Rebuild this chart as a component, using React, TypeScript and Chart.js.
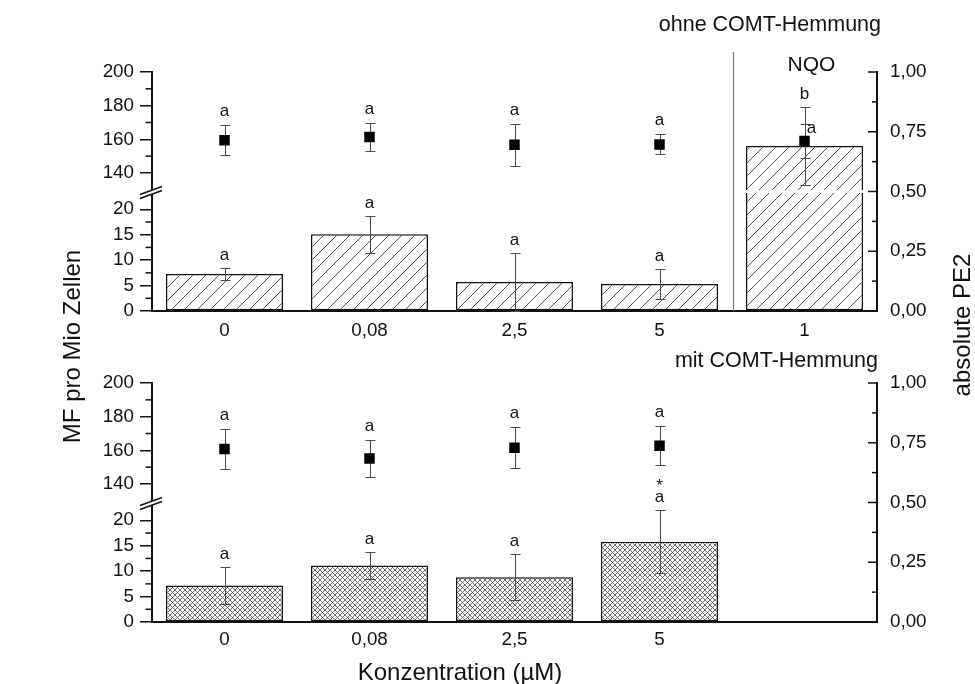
import React, { useEffect, useRef } from 'react';
import { Chart, registerables } from 'chart.js';

Chart.register(...registerables);

const FONT = '"Liberation Sans", Arial, Helvetica, sans-serif';
const INK = '#111111';

// ---------- data ----------
// concentration categories (µM); the last slot of the upper panel is the NQO control
const concOhne = ['0', '0,08', '2,5', '5', '1'];
const concMit = ['0', '0,08', '2,5', '5', ''];

// MF pro Mio Zellen (bars): mean and SD
const mfOhne = [7.3, 15.1, 5.7, 5.3, 156];
const mfOhneSd = [1.2, 3.6, 5.7, 3.0, 23];
const mfMit = [7.2, 11.1, 8.8, 15.8, null];
const mfMitSd = [3.6, 2.6, 4.5, 6.2, null];

// absolute PE2 (squares): mean and SD
const pe2Ohne = [0.714, 0.728, 0.696, 0.697, 0.711];
const pe2OhneSd = [0.063, 0.058, 0.088, 0.042, 0.07];
const pe2Mit = [0.724, 0.684, 0.729, 0.737, null];
const pe2MitSd = [0.084, 0.078, 0.085, 0.081, null];

// significance marks (lines separated by \n, top line first)
const mfOhneMarks = ['a', 'a', 'a', 'a', 'b'];
const pe2OhneMarks = ['a', 'a', 'a', 'a', 'a'];
const mfMitMarks = ['a', 'a', 'a', '*\na', ''];
const pe2MitMarks = ['a', 'a', 'a', 'a', ''];

// broken MF axis: lower and upper segment
const mfLowRange = [0, 23.5];
const mfHighRange = [129, 200];
const mfLowTicks = [0, 5, 10, 15, 20];
const mfHighTicks = [140, 160, 180, 200];
const pe2Range = [0, 1];
const pe2Ticks = [0, 0.25, 0.5, 0.75, 1];

type Panel = {
  labels: string[];
  mf: (number | null)[];
  mfSd: (number | null)[];
  pe2: (number | null)[];
  pe2Sd: (number | null)[];
  mfMarks: string[];
  pe2Marks: string[];
  hatch: 'diag' | 'cross';
  title: string;
  control?: string;
  areaTop: number;
  areaBottom: number;
  titleDy: number;
  titleDx: number;
  labelPad: number;
};

const PAGE_W = 975;
const PAGE_H = 684;

const ohnePanel: Panel = {
  labels: concOhne, mf: mfOhne, mfSd: mfOhneSd, pe2: pe2Ohne, pe2Sd: pe2OhneSd,
  mfMarks: mfOhneMarks, pe2Marks: pe2OhneMarks, hatch: 'diag',
  title: 'ohne COMT-Hemmung', control: 'NQO',
  areaTop: 72, areaBottom: 311, titleDy: -41, titleDx: 4, labelPad: 9,
};

const mitPanel: Panel = {
  labels: concMit, mf: mfMit, mfSd: mfMitSd, pe2: pe2Mit, pe2Sd: pe2MitSd,
  mfMarks: mfMitMarks, pe2Marks: pe2MitMarks, hatch: 'cross',
  title: 'mit COMT-Hemmung',
  areaTop: 383, areaBottom: 622, titleDy: -16.5, titleDx: 1, labelPad: 7,
};

function makeHatch(kind: 'diag' | 'cross'): CanvasPattern {
  const size = kind === 'diag' ? 13 : 5;
  const c = document.createElement('canvas');
  c.width = size;
  c.height = size;
  const g = c.getContext('2d')!;
  g.fillStyle = '#ffffff';
  g.fillRect(0, 0, size, size);
  g.strokeStyle = kind === 'diag' ? '#3c3c3c' : '#4a4a4a';
  g.lineWidth = kind === 'diag' ? 0.9 : 0.8;
  g.beginPath();
  g.moveTo(-1, size + 1); g.lineTo(size + 1, -1);
  g.moveTo(-1, 1); g.lineTo(1, -1);
  g.moveTo(size - 1, size + 1); g.lineTo(size + 1, size - 1);
  if (kind === 'cross') {
    g.moveTo(-1, -1); g.lineTo(size + 1, size + 1);
    g.moveTo(size - 1, -1); g.lineTo(size + 1, 1);
    g.moveTo(-1, size - 1); g.lineTo(1, size + 1);
  }
  g.stroke();
  return g.createPattern(c, 'repeat')!;
}

function errorBar(ctx: CanvasRenderingContext2D, x: number, yTop: number, yBot: number) {
  const cx = Math.round(x) + 0.5;
  const cap = 5;
  const t = Math.round(yTop) + 0.5;
  const b = Math.round(yBot) + 0.5;
  ctx.beginPath();
  ctx.moveTo(cx, t); ctx.lineTo(cx, b);
  ctx.moveTo(cx - cap, t); ctx.lineTo(cx + cap, t);
  ctx.moveTo(cx - cap, b); ctx.lineTo(cx + cap, b);
  ctx.stroke();
}

function drawMarks(ctx: CanvasRenderingContext2D, s: string, x: number, baseY: number) {
  if (!s) return;
  const lines = s.split('\n').reverse();
  lines.forEach((ln, k) => ctx.fillText(ln, x, baseY - k * 11.5));
}

function drawText(
  ctx: CanvasRenderingContext2D, s: string, x: number, y: number, size: number,
  align: CanvasTextAlign, rot = 0,
) {
  ctx.save();
  ctx.translate(x, y);
  if (rot) ctx.rotate(rot);
  ctx.font = `${size}px ${FONT}`;
  ctx.fillStyle = INK;
  ctx.textAlign = align;
  ctx.textBaseline = 'alphabetic';
  ctx.fillText(s, 0, 0);
  ctx.restore();
}

function decorPlugin(p: Panel, shared: boolean) {
  const lowMax = mfLowRange[1];
  return {
    id: 'panelDecor',
    beforeDatasetDraw(chart: any, args: any) {
      // whiskers go under the squares but over the bars
      if (args.index !== 0) return;
      const { ctx } = chart;
      const { x, yLow, yHigh, yR } = chart.scales;
      ctx.save();
      ctx.strokeStyle = '#4a4a4a';
      ctx.lineWidth = 1;
      p.mf.forEach((v, i) => {
        if (v == null) return;
        const sd = p.mfSd[i] ?? 0;
        const sc = v > lowMax ? yHigh : yLow;
        errorBar(ctx, x.getPixelForValue(i), sc.getPixelForValue(v + sd), sc.getPixelForValue(Math.max(v - sd, sc.min)));
      });
      p.pe2.forEach((v, i) => {
        if (v == null) return;
        const sd = p.pe2Sd[i] ?? 0;
        errorBar(ctx, x.getPixelForValue(i), yR.getPixelForValue(v + sd), yR.getPixelForValue(v - sd));
      });
      ctx.restore();
    },
    afterDatasetsDraw(chart: any) {
      const { ctx } = chart;
      const { x, yLow, yHigh, yR } = chart.scales;
      const brk = yLow.top;
      // white gap where a bar crosses the axis break
      const meta = chart.getDatasetMeta(1);
      p.mf.forEach((v, i) => {
        if (v == null || v <= lowMax) return;
        const el = meta.data[i];
        ctx.save();
        ctx.fillStyle = '#ffffff';
        ctx.fillRect(el.x - el.width / 2 - 2, brk - 1.5, el.width + 4, 3);
        ctx.restore();
      });
      // significance letters
      ctx.save();
      ctx.font = `17px ${FONT}`;
      ctx.fillStyle = INK;
      ctx.textAlign = 'center';
      ctx.textBaseline = 'alphabetic';
      p.mf.forEach((v, i) => {
        if (v == null) return;
        const sd = p.mfSd[i] ?? 0;
        const sc = v > lowMax ? yHigh : yLow;
        drawMarks(ctx, p.mfMarks[i], x.getPixelForValue(i), sc.getPixelForValue(v + sd) - 8);
      });
      p.pe2.forEach((v, i) => {
        if (v == null) return;
        const sd = p.pe2Sd[i] ?? 0;
        const top = yR.getPixelForValue(v + sd);
        let px = x.getPixelForValue(i);
        let base = top - 9;
        const mv = p.mf[i];
        if (mv != null) {
          const msd = p.mfSd[i] ?? 0;
          const sc = mv > lowMax ? yHigh : yLow;
          const wTop = sc.getPixelForValue(mv + msd);
          const wBot = sc.getPixelForValue(Math.max(mv - msd, sc.min));
          if (base - 4 > wTop && base - 4 < wBot) {
            // letter would sit on the bar whisker: move it beside the cap
            px += 7;
            base = top + 9;
          }
        }
        drawMarks(ctx, p.pe2Marks[i], px, base);
      });
      ctx.restore();
    },
    afterDraw(chart: any) {
      const { ctx, chartArea } = chart;
      const { x, yLow, yHigh, yR } = chart.scales;
      const left = chartArea.left;
      const right = chartArea.right;
      ctx.save();
      ctx.strokeStyle = INK;
      ctx.lineWidth = 1.5;
      // minor ticks on the MF axis (outward) halfway between major ticks
      for (const sc of [yLow, yHigh]) {
        const t = sc.ticks.map((tk: any) => tk.value);
        for (let k = 0; k < t.length - 1; k++) {
          const y = sc.getPixelForValue((t[k] + t[k + 1]) / 2);
          ctx.beginPath(); ctx.moveTo(left - 6.5, y); ctx.lineTo(left, y); ctx.stroke();
        }
      }
      // PE2 axis: major and minor ticks pointing inward
      const rt = yR.ticks.map((tk: any) => tk.value);
      rt.forEach((v: number, k: number) => {
        const y = yR.getPixelForValue(v);
        ctx.beginPath(); ctx.moveTo(right - 9, y); ctx.lineTo(right, y); ctx.stroke();
        if (k < rt.length - 1) {
          const ym = yR.getPixelForValue((v + rt[k + 1]) / 2);
          ctx.beginPath(); ctx.moveTo(right - 5, ym); ctx.lineTo(right, ym); ctx.stroke();
        }
      });
      // axis break marks
      const by = yLow.top;
      ctx.fillStyle = '#ffffff';
      ctx.beginPath();
      ctx.moveTo(left - 12, by + 3); ctx.lineTo(left + 10, by - 5);
      ctx.lineTo(left + 10, by - 1); ctx.lineTo(left - 12, by + 7);
      ctx.closePath(); ctx.fill();
      ctx.lineWidth = 1.4;
      ctx.beginPath();
      ctx.moveTo(left - 12, by + 3); ctx.lineTo(left + 10, by - 5);
      ctx.moveTo(left - 12, by + 7); ctx.lineTo(left + 10, by - 1);
      ctx.stroke();
      // positive control separator and label
      if (p.control) {
        const last = p.labels.length - 1;
        const sx = Math.round((x.getPixelForValue(last - 1) + x.getPixelForValue(last)) / 2) + 1.5;
        ctx.strokeStyle = '#7a7a7a';
        ctx.lineWidth = 1.2;
        ctx.beginPath(); ctx.moveTo(sx, chartArea.top - 20); ctx.lineTo(sx, chartArea.bottom); ctx.stroke();
        drawText(ctx, p.control, x.getPixelForValue(last) + 7, chartArea.top - 1, 21, 'center');
      }
      ctx.restore();
      // panel title
      drawText(ctx, p.title, right + p.titleDx, chartArea.top + p.titleDy, 21.5, 'right');
      if (shared) {
        drawText(ctx, 'MF pro Mio Zellen', 80, 346.5, 24, 'center', -Math.PI / 2);
        drawText(ctx, 'absolute PE2', 970, 325, 24, 'center', -Math.PI / 2);
        drawText(ctx, 'Konzentration (µM)', 460, 680, 24, 'center');
      }
    },
  };
}

function buildConfig(p: Panel, shared: boolean): any {
  const lowMax = mfLowRange[1];
  const fill = makeHatch(p.hatch);
  const barLow = p.mf.map((v) => (v == null ? null : Math.min(v, lowMax)));
  const barHigh = p.mf.map((v) => (v != null && v > lowMax ? [mfHighRange[0], v] : null));
  const tickFont = { family: FONT, size: 18.8 };

  const mfAxis = (ticks: number[], range: number[]) => ({
    type: 'linear',
    position: 'left',
    stack: 'mf',
    stackWeight: 1,
    min: range[0],
    max: range[1],
    afterBuildTicks: (s: any) => { s.ticks = ticks.map((value) => ({ value })); },
    afterFit: (s: any) => { s.width = 60; },
    ticks: { color: INK, font: tickFont, padding: 6, autoSkip: false },
    grid: { drawOnChartArea: false, drawTicks: true, tickLength: 12, color: INK, lineWidth: 1.5 },
    border: { color: INK, width: 2 },
  });

  const barCommon = {
    type: 'bar',
    backgroundColor: fill,
    borderColor: INK,
    borderWidth: 1.5,
    grouped: false,
    barPercentage: 0.807,
    categoryPercentage: 1,
    order: 1,
  };

  return {
    type: 'bar',
    data: {
      labels: p.labels,
      datasets: [
        {
          type: 'line',
          label: 'absolute PE2',
          data: p.pe2,
          yAxisID: 'yR',
          showLine: false,
          pointStyle: 'rect',
          pointRadius: 7.4,
          pointBackgroundColor: '#000000',
          pointBorderColor: '#000000',
          pointBorderWidth: 0,
          order: 0,
        },
        {
          ...barCommon,
          label: 'MF pro Mio Zellen',
          data: barLow,
          yAxisID: 'yLow',
          borderSkipped: (c: any) => {
            const v = p.mf[c.dataIndex];
            return v != null && v > lowMax ? 'top' : false;
          },
        },
        {
          ...barCommon,
          label: 'MF pro Mio Zellen (oberer Bereich)',
          data: barHigh,
          yAxisID: 'yHigh',
          borderSkipped: 'bottom',
        },
      ],
    },
    options: {
      responsive: false,
      animation: false,
      events: [],
      layout: {
        padding: {
          left: 92,
          right: 38,
          top: p.areaTop,
          bottom: PAGE_H - p.areaBottom - 34,
        },
      },
      plugins: {
        legend: { display: false },
        tooltip: { enabled: false },
      },
      scales: {
        x: {
          type: 'category',
          offset: true,
          afterFit: (s: any) => { s.height = 34; },
          grid: { display: false, drawTicks: false },
          border: { color: INK, width: 2 },
          ticks: { color: INK, font: tickFont, padding: p.labelPad, maxRotation: 0, autoSkip: false },
        },
        yLow: mfAxis(mfLowTicks, mfLowRange),
        yHigh: mfAxis(mfHighTicks, mfHighRange),
        yR: {
          type: 'linear',
          position: 'right',
          min: pe2Range[0],
          max: pe2Range[1],
          afterBuildTicks: (s: any) => { s.ticks = pe2Ticks.map((value) => ({ value })); },
          afterFit: (s: any) => { s.width = 60; },
          ticks: {
            color: INK,
            font: tickFont,
            padding: 13,
            autoSkip: false,
            callback: (v: any) => Number(v).toFixed(2).replace('.', ','),
          },
          grid: { display: false, drawTicks: false },
          border: { color: INK, width: 2 },
        },
      },
    },
    plugins: [decorPlugin(p, shared)],
  };
}

export default function App() {
  const topRef = useRef<HTMLCanvasElement>(null);
  const bottomRef = useRef<HTMLCanvasElement>(null);

  useEffect(() => {
    const charts = [
      new Chart(topRef.current!, buildConfig(ohnePanel, false)),
      new Chart(bottomRef.current!, buildConfig(mitPanel, true)),
    ];
    return () => charts.forEach((c) => c.destroy());
  }, []);

  const canvasStyle: React.CSSProperties = {
    position: 'absolute', left: 0, top: 0, width: PAGE_W, height: PAGE_H,
  };

  return (
    <div style={{ position: 'fixed', left: 0, top: 0, width: PAGE_W, height: PAGE_H, background: '#ffffff' }}>
      <canvas ref={bottomRef} width={PAGE_W} height={PAGE_H} style={canvasStyle} />
      <canvas ref={topRef} width={PAGE_W} height={PAGE_H} style={canvasStyle} />
    </div>
  );
}
